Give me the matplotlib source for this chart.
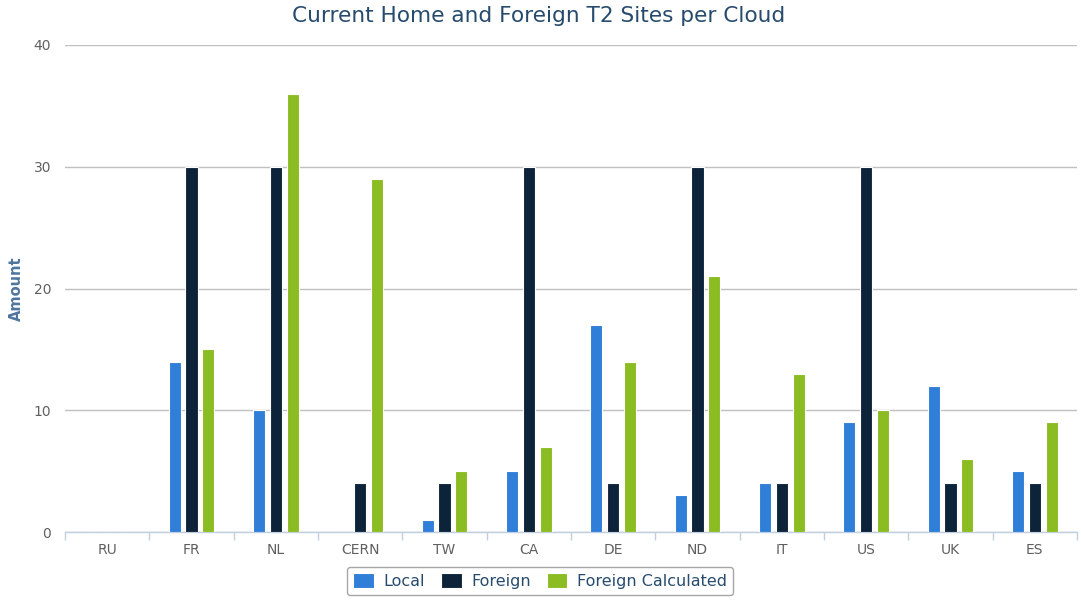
import matplotlib
matplotlib.use("Agg")
import matplotlib.pyplot as plt
import numpy as np

categories = ["RU", "FR", "NL", "CERN", "TW", "CA", "DE", "ND", "IT", "US", "UK", "ES"]
local = [0, 14, 10, 0, 1, 5, 17, 3, 4, 9, 12, 5]
foreign = [0, 30, 30, 4, 4, 30, 4, 30, 4, 30, 4, 4]
foreign_calc = [0, 15, 36, 29, 5, 7, 14, 21, 13, 10, 6, 9]
series = [("Local", local, "#2f7ed8"), ("Foreign", foreign, "#0d233a"),
          ("Foreign Calculated", foreign_calc, "#8bbc21")]

plt.rcParams['font.family'] = ['DejaVu Sans']
fig = plt.figure(figsize=(10.81, 6.0), dpi=100)
ax = fig.add_axes([65/1081, 68/600, (1077-65)/1081, (532-45)/600])

x = np.arange(len(categories))
w = 0.145
offs = [-0.2, 0.0, 0.2]
for (name, vals, col), o in zip(series, offs):
    ax.bar(x + o, vals, width=w, color=col, edgecolor="white", linewidth=0.8, label=name, zorder=3)

ax.set_xlim(-0.5, len(categories) - 0.5)
ax.set_ylim(0, 40)
ax.set_yticks([0, 10, 20, 30, 40])
ax.yaxis.grid(True, color="#c0c0c0", linewidth=1, zorder=0)
ax.tick_params(axis="y", length=0, labelsize=10, labelcolor="#606060", pad=10)
ax.set_xticks(x)
ax.set_xticklabels(categories)
ax.tick_params(axis="x", length=0, labelsize=10, labelcolor="#606060", pad=8)
ax.set_xticks(np.arange(-0.5, len(categories)), minor=True)
ax.tick_params(axis="x", which="minor", length=6, color="#c0d0e0", width=1)
for s in ["top", "right", "left"]:
    ax.spines[s].set_visible(False)
ax.spines["bottom"].set_color("#c0d0e0")
ax.spines["bottom"].set_linewidth(1)

ax.set_ylabel("Amount", color="#4d759e", fontsize=10.5, fontweight="bold", labelpad=7)
fig.text(539/1081, 1 - 16.5/600, "Current Home and Foreign T2 Sites per Cloud",
         ha="center", va="center", fontsize=15.6, color="#274b6d")

leg = ax.legend(loc="center", bbox_to_anchor=(540/1081, 1 - 581/600), bbox_transform=fig.transFigure,
                ncol=3, frameon=True, fontsize=11.5, handlelength=1.3, handleheight=1.1,
                columnspacing=1.0, handletextpad=0.6, borderpad=0.4, fancybox=True)
leg.get_frame().set_edgecolor("#909090")
leg.get_frame().set_linewidth(1)
for t in leg.get_texts():
    t.set_color("#274b6d")

fig.savefig("out.png", dpi=100)
